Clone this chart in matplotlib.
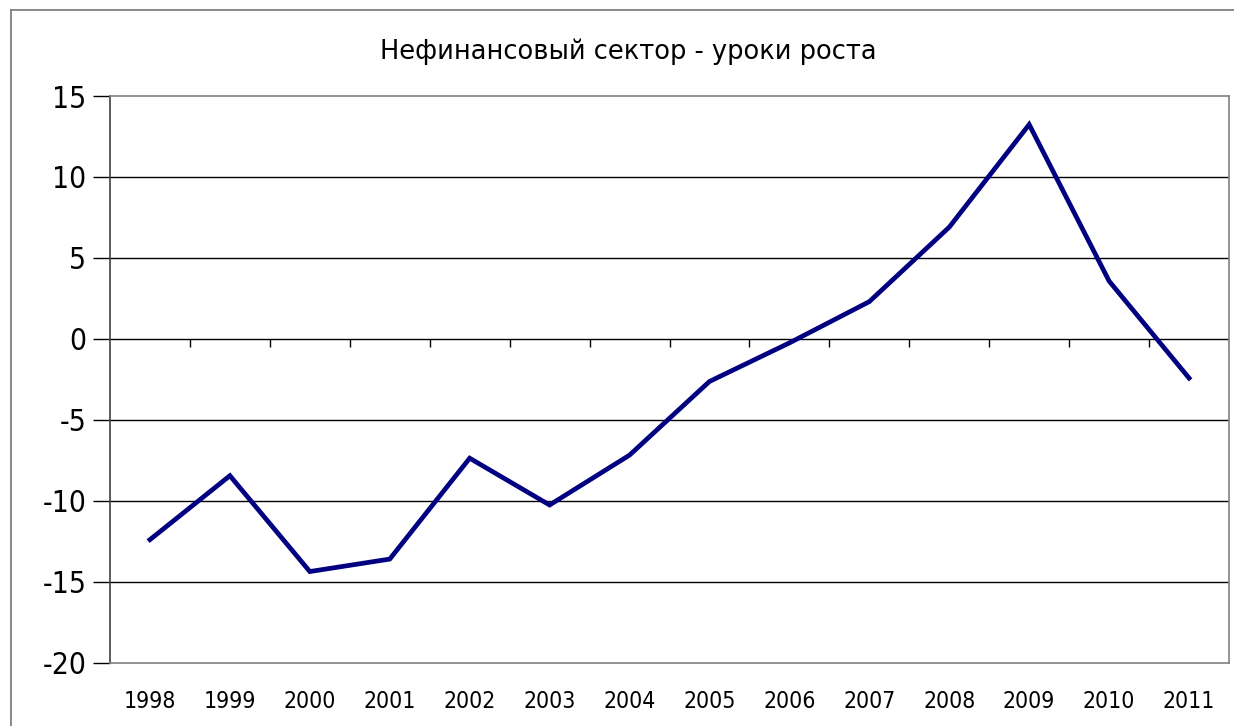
import matplotlib
matplotlib.use("Agg")
import matplotlib.pyplot as plt
from matplotlib.lines import Line2D
import numpy as np

years = ["1998", "1999", "2000", "2001", "2002", "2003", "2004",
         "2005", "2006", "2007", "2008", "2009", "2010", "2011"]
values = [-12.4, -8.45, -14.37, -13.6, -7.37, -10.26, -7.18,
          -2.63, -0.25, 2.3, 6.9, 13.24, 3.57, -2.42]
yticks = [-20, -15, -10, -5, 0, 5, 10, 15]
title = "Нефинансовый сектор - уроки роста"

plt.rcParams['font.family'] = ['DejaVu Sans']

W, H = 1234, 726
fig = plt.figure(figsize=(W / 100, H / 100), dpi=100)
fig.patch.set_facecolor("white")

# outer frame (top and left edges only visible)
fig.add_artist(Line2D([11 / W, 1.0], [1 - 10 / H, 1 - 10 / H], transform=fig.transFigure,
                      color="#808080", linewidth=1.3))
fig.add_artist(Line2D([11 / W, 11 / W], [0.0, 1 - 10 / H], transform=fig.transFigure,
                      color="#808080", linewidth=1.3))

ax = fig.add_axes([110 / W, (H - 662.7) / H, (1229 - 110) / W, (662.7 - 96) / H])
n = len(years)
x = np.arange(n)
ax.set_xlim(-0.5, n - 0.5)
ax.set_ylim(-20, 15)

for yv in yticks:
    if yv not in (-20, 15):
        ax.axhline(yv, color="black", linewidth=1.0, zorder=1)

# category boundary tick marks on the zero line
ax.vlines(np.arange(n) + 0.5, -0.5, 0, color="black", linewidth=1.0, zorder=1)

ax.plot(x, values, color="#000080", linewidth=3.4, solid_joinstyle="miter", zorder=3)

ax.set_yticks(yticks)
ax.set_yticklabels([str(v) for v in yticks], fontsize=21.5, fontstretch="condensed")
ax.tick_params(axis="y", direction="out", length=12, width=1, pad=5, color="#000000")
ax.set_xticks(x)
ax.set_xticklabels(years, fontsize=16.5, fontstretch="condensed")
ax.tick_params(axis="x", length=0, pad=20)

for s in ax.spines.values():
    s.set_color("#808080")
    s.set_linewidth(1.2)
ax.spines["left"].set_color("#404040")

fig.text(628 / W, 1 - 52 / H, title, ha="center", va="center", fontsize=18.5)

fig.savefig("out.png", dpi=100)
